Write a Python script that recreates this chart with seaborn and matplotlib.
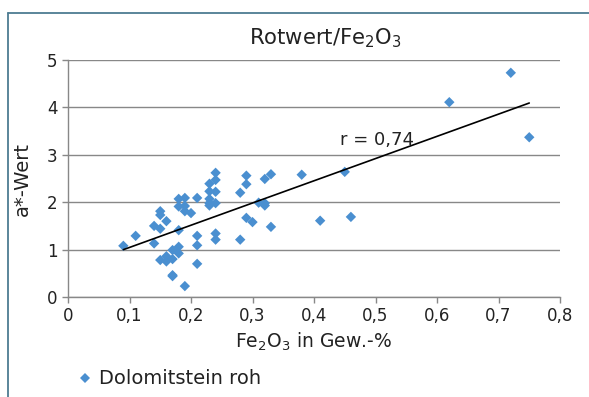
import numpy as np
import pandas as pd
import matplotlib
matplotlib.use("Agg")
import matplotlib.pyplot as plt
import seaborn as sns
from matplotlib.lines import Line2D

fe2o3 = [0.09, 0.11, 0.14, 0.14, 0.15, 0.15, 0.15, 0.15, 0.16, 0.16, 0.16, 0.17, 0.17, 0.17, 0.17,
         0.18, 0.18, 0.18, 0.18, 0.18, 0.19, 0.19, 0.19, 0.19, 0.20, 0.21, 0.21, 0.21, 0.21,
         0.23, 0.23, 0.23, 0.23, 0.23, 0.24, 0.24, 0.24, 0.24, 0.24, 0.24, 0.28, 0.28,
         0.29, 0.29, 0.29, 0.30, 0.31, 0.32, 0.32, 0.32, 0.33, 0.33, 0.38, 0.41, 0.45, 0.46,
         0.62, 0.72, 0.75]
a_wert = [1.08, 1.29, 1.50, 1.13, 1.81, 1.73, 1.44, 0.78, 1.60, 0.86, 0.75, 0.99, 0.80, 0.46, 0.44,
          2.07, 1.91, 1.41, 1.06, 0.92, 2.09, 1.92, 1.81, 0.23, 1.77, 2.09, 1.29, 1.09, 0.70,
          2.39, 2.23, 2.07, 1.98, 1.93, 2.62, 2.47, 2.22, 1.98, 1.34, 1.21, 2.20, 1.21,
          2.56, 2.38, 1.67, 1.58, 1.99, 2.49, 1.98, 1.93, 2.59, 1.48, 2.58, 1.61, 2.64, 1.69,
          4.11, 4.73, 3.37]
series_name = "Dolomitstein roh"
x_ticks = [0, 0.1, 0.2, 0.3, 0.4, 0.5, 0.6, 0.7, 0.8]
x_tick_labels = ["0", "0,1", "0,2", "0,3", "0,4", "0,5", "0,6", "0,7", "0,8"]
y_ticks = [0, 1, 2, 3, 4, 5]

df = pd.DataFrame({"x": fe2o3, "y": a_wert, "s": series_name})

sns.set_theme(style="white")
plt.rcParams['font.family'] = ['DejaVu Sans']
plt.rcParams['mathtext.fontset'] = 'dejavusans'

fig = plt.figure(figsize=(5.89, 3.97), dpi=100)
ax = fig.add_axes([68/589, 1-297/397, (560-68)/589, (297-60)/397])

blue = "#4a8fd0"
txt = "#222222"
sns.scatterplot(data=df, x="x", y="y", hue="s", palette=[blue], marker="D", s=28,
                edgecolor="none", ax=ax, legend=False, zorder=3)
sns.regplot(data=df, x="x", y="y", scatter=False, ci=None, truncate=True, ax=ax,
            line_kws=dict(color="black", lw=1.2, zorder=4))

ax.set_xlim(0, 0.8)
ax.set_ylim(0, 5)
ax.set_xticks(x_ticks)
ax.set_xticklabels(x_tick_labels)
ax.set_yticks(y_ticks)
ax.tick_params(axis="both", labelsize=12, labelcolor=txt, length=4.5, width=1,
               direction="out", bottom=True, left=True, color="#888888", pad=3)
ax.yaxis.grid(True, color="#888888", lw=1)
ax.xaxis.grid(False)
for s in ["top", "right"]:
    ax.spines[s].set_visible(False)
for s in ["left", "bottom"]:
    ax.spines[s].set_color("#888888")
    ax.spines[s].set_linewidth(1)

fig.text(325/589, 1-35/397, "Rotwert/Fe$_2$O$_3$", fontsize=15.2, color=txt,
         ha="center", va="center_baseline")
ax.set_xlabel("Fe$_2$O$_3$ in Gew.-%", fontsize=13.5, color=txt, labelpad=4)
ax.set_ylabel("a*-Wert", fontsize=14, color=txt, labelpad=11)
ax.text(0.443, 3.31, "r = 0,74", fontsize=13, color=txt, va="center", ha="left")

handle = Line2D([], [], marker="D", color=blue, linestyle="none", markersize=5, markeredgewidth=0)
fig.legend([handle], [series_name], loc="center left", bbox_to_anchor=(66/589, 1-379/397),
           frameon=False, fontsize=14, handletextpad=0.1, handlelength=1.2,
           labelcolor=txt, borderaxespad=0)

fig.add_artist(Line2D([8/589, 1], [1-13/397, 1-13/397], transform=fig.transFigure,
                      color="#4d7c92", lw=1.3))
fig.add_artist(Line2D([8/589, 8/589], [0, 1-13/397], transform=fig.transFigure,
                      color="#4d7c92", lw=1.3))

fig.savefig("out.png", dpi=100)
